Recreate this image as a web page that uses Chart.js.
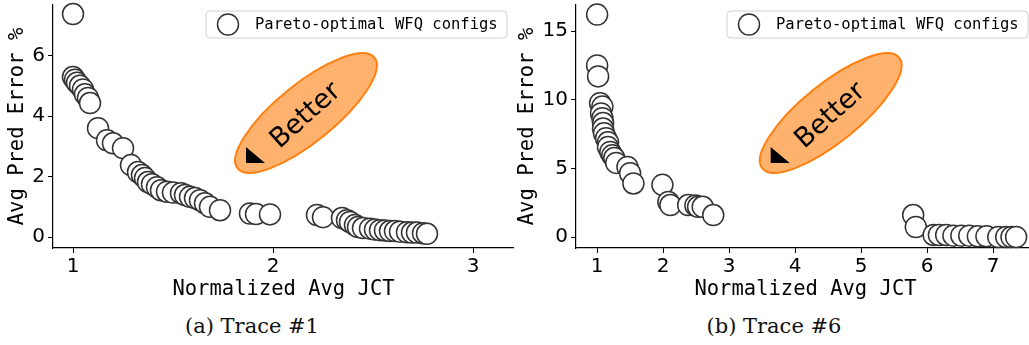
<!DOCTYPE html>
<html>
<head>
<meta charset="utf-8">
<script src="https://cdn.jsdelivr.net/npm/chart.js@4.4.0/dist/chart.umd.min.js"></script>
<style>
  body { margin: 0; width: 1029px; height: 345px; overflow: hidden; background: #fff; position: relative; }
  canvas { position: absolute; top: 0; }
  #trace1 { left: 0; }
  #trace6 { left: 512px; }
  .cap { position: absolute; top: 314px; font-family: "DejaVu Serif", serif; font-size: 21px;
         transform: translateX(-50%); white-space: nowrap; color: #111; }
</style>
</head>
<body>
<canvas id="trace1" width="514" height="305"></canvas>
<canvas id="trace6" width="523" height="305"></canvas>
<div class="cap" style="left:252px">(a) Trace #1</div>
<div class="cap" style="left:774px">(b) Trace #6</div>
<script>
// trace #1
const jct1 = [1.00, 1.00, 1.01, 1.02, 1.035, 1.05, 1.06, 1.075, 1.085, 1.125, 1.17, 1.20, 1.25, 1.29,
  1.325, 1.345, 1.36, 1.375, 1.395, 1.42, 1.44, 1.47, 1.50, 1.54, 1.56, 1.585, 1.61, 1.635, 1.66, 1.685, 1.735,
  1.885, 1.915, 1.985, 2.22, 2.25, 2.345, 2.37, 2.385, 2.41, 2.425, 2.45, 2.485, 2.51, 2.535, 2.56, 2.585,
  2.61, 2.635, 2.67, 2.695, 2.72, 2.75, 2.77]
const err1 = [7.37, 5.29, 5.20, 5.10, 5.00, 4.88, 4.72, 4.60, 4.43, 3.60, 3.20, 3.10, 2.94, 2.38,
  2.15, 2.05, 1.95, 1.82, 1.75, 1.65, 1.55, 1.50, 1.47, 1.45, 1.39, 1.33, 1.29, 1.22, 1.12, 1.00, 0.89,
  0.78, 0.76, 0.75, 0.73, 0.66, 0.63, 0.56, 0.50, 0.40, 0.33, 0.30, 0.28, 0.25, 0.23, 0.22, 0.20,
  0.20, 0.18, 0.16, 0.15, 0.15, 0.13, 0.11]
const xTicks1 = [1, 2, 3]
const yTicks1 = [0, 2, 4, 6]

// trace #6
const jct6 = [1.00, 1.00, 1.015, 1.045, 1.08, 1.06, 1.08, 1.09, 1.09, 1.105, 1.135, 1.165, 1.165, 1.20,
  1.23, 1.26, 1.29, 1.46, 1.50, 1.55, 1.99, 2.08, 2.11, 2.38, 2.49, 2.53, 2.60, 2.76, 5.79, 5.83,
  6.10, 6.18, 6.29, 6.40, 6.52, 6.64, 6.77, 6.90, 7.08, 7.20, 7.28, 7.35]
const err6 = [16.2, 12.5, 11.7, 9.75, 9.5, 9.0, 8.65, 8.3, 7.9, 7.55, 7.2, 6.9, 6.55, 6.2,
  5.95, 5.75, 5.4, 5.1, 4.65, 3.9, 3.8, 2.55, 2.33, 2.33, 2.3, 2.2, 2.2, 1.6, 1.6, 0.73,
  0.15, 0.15, 0.15, 0.1, 0.1, 0.1, 0.05, 0.05, 0.0, 0.0, 0.0, 0.0]
const xTicks6 = [1, 2, 3, 4, 5, 6, 7]
const yTicks6 = [0, 5, 10, 15]

const legendLabel = 'Pareto-optimal WFQ configs'
const xTitle = 'Normalized Avg JCT'
const yTitle = 'Avg Pred Error %'

// ellipse "Better" + legend frame, drawn on top of the points
const decor = {
  id: 'decor',
  afterDatasetsDraw(chart, args, opts) {
    const ctx = chart.ctx
    const cx = chart.scales.x.getPixelForValue(opts.at[0])
    const cy = chart.scales.y.getPixelForValue(opts.at[1])
    ctx.save()
    ctx.translate(cx, cy)
    ctx.save()
    ctx.rotate(-39 * Math.PI / 180)
    ctx.beginPath()
    ctx.ellipse(0, 0, 88, 29, 0, 0, 2 * Math.PI)
    ctx.fillStyle = 'rgba(255,127,14,0.6)'
    ctx.fill()
    ctx.strokeStyle = '#ff7f0e'
    ctx.lineWidth = 2
    ctx.stroke()
    ctx.restore()
    ctx.beginPath()
    ctx.moveTo(-60, 34)
    ctx.lineTo(-60, 50)
    ctx.lineTo(-41, 50)
    ctx.closePath()
    ctx.fillStyle = '#000'
    ctx.fill()
    ctx.save()
    ctx.translate(0, 3)
    ctx.rotate(-42 * Math.PI / 180)
    ctx.font = '27px "DejaVu Sans"'
    ctx.textAlign = 'center'
    ctx.textBaseline = 'middle'
    ctx.fillText('Better', 0, 0)
    ctx.restore()
    ctx.restore()

    // legend
    const area = chart.chartArea
    const w = 301, h = 27
    const left = area.right - 7 - w, top = area.top + 6
    ctx.save()
    ctx.beginPath()
    ctx.roundRect(left, top, w, h, 4)
    ctx.fillStyle = 'rgba(255,255,255,0.8)'
    ctx.fill()
    ctx.strokeStyle = '#d0d0d0'
    ctx.lineWidth = 1
    ctx.stroke()
    ctx.beginPath()
    ctx.arc(left + 22, top + h / 2, 10.5, 0, 2 * Math.PI)
    ctx.fillStyle = '#fff'
    ctx.fill()
    ctx.strokeStyle = '#333'
    ctx.lineWidth = 1.5
    ctx.stroke()
    ctx.fillStyle = '#000'
    ctx.font = '15.5px "DejaVu Sans Mono"'
    ctx.textAlign = 'left'
    ctx.textBaseline = 'middle'
    ctx.fillText(chart.data.datasets[0].label, left + 49, top + h / 2)
    ctx.restore()
  }
}

function makeChart(id, jct, err, xTicks, yTicks, xr, yr, yWidth, titlePad, betterAt) {
  const ctx = document.getElementById(id)
  new Chart(ctx, {
    type: 'scatter',
    data: {
      datasets: [{
        label: legendLabel,
        data: jct.map((x, i) => ({x: x, y: err[i]})),
        pointRadius: 10.5,
        pointBackgroundColor: '#fff',
        pointBorderColor: '#333',
        pointBorderWidth: 1.5,
        clip: false
      }]
    },
    options: {
      responsive: false,
      animation: false,
      events: [],
      layout: {autoPadding: false, padding: {top: 5, right: 0, left: 0, bottom: 0}},
      scales: {
        x: {
          type: 'linear', min: xr[0], max: xr[1],
          afterBuildTicks: s => { s.ticks = xTicks.map(v => ({value: v})) },
          afterFit: s => { s.height = 57; s.paddingLeft = 0; s.paddingRight = 0 },
          grid: {drawOnChartArea: false, tickLength: 5, color: '#000'},
          border: {color: '#000', width: 1.2},
          ticks: {font: {family: 'DejaVu Sans', size: 20}, color: '#000', padding: 2,
                  maxRotation: 0, autoSkip: false, callback: v => String(v)},
          title: {display: true, text: xTitle, color: '#000',
                  font: {family: 'DejaVu Sans Mono', size: 20.5, lineHeight: 1.2},
                  padding: {top: 0, bottom: 3}}
        },
        y: {
          type: 'linear', min: yr[0], max: yr[1],
          afterBuildTicks: s => { s.ticks = yTicks.map(v => ({value: v})) },
          afterFit: s => { s.width = yWidth; s.paddingTop = 0; s.paddingBottom = 0 },
          grid: {drawOnChartArea: false, tickLength: 5, color: '#000'},
          border: {color: '#000', width: 1.2},
          ticks: {font: {family: 'DejaVu Sans', size: 20}, color: '#000', padding: 3,
                  autoSkip: false, callback: v => String(v)},
          title: {display: true, text: yTitle, color: '#000',
                  font: {family: 'DejaVu Sans Mono', size: 20.5, lineHeight: 1.2},
                  padding: {top: titlePad, bottom: 0}}
        }
      },
      plugins: {
        legend: {display: false},
        tooltip: {enabled: false},
        decor: {at: betterAt}
      }
    },
    plugins: [decor]
  })
}

makeChart('trace1', jct1, err1, xTicks1, yTicks1, [0.9, 3.205], [-0.36, 7.67], 53, 5.5, [2.165, 4.1])
makeChart('trace6', jct6, err6, xTicks6, yTicks6, [0.68, 7.636], [-0.8, 16.9], 64, 3.5, [4.54, 9.03])
</script>
</body>
</html>
